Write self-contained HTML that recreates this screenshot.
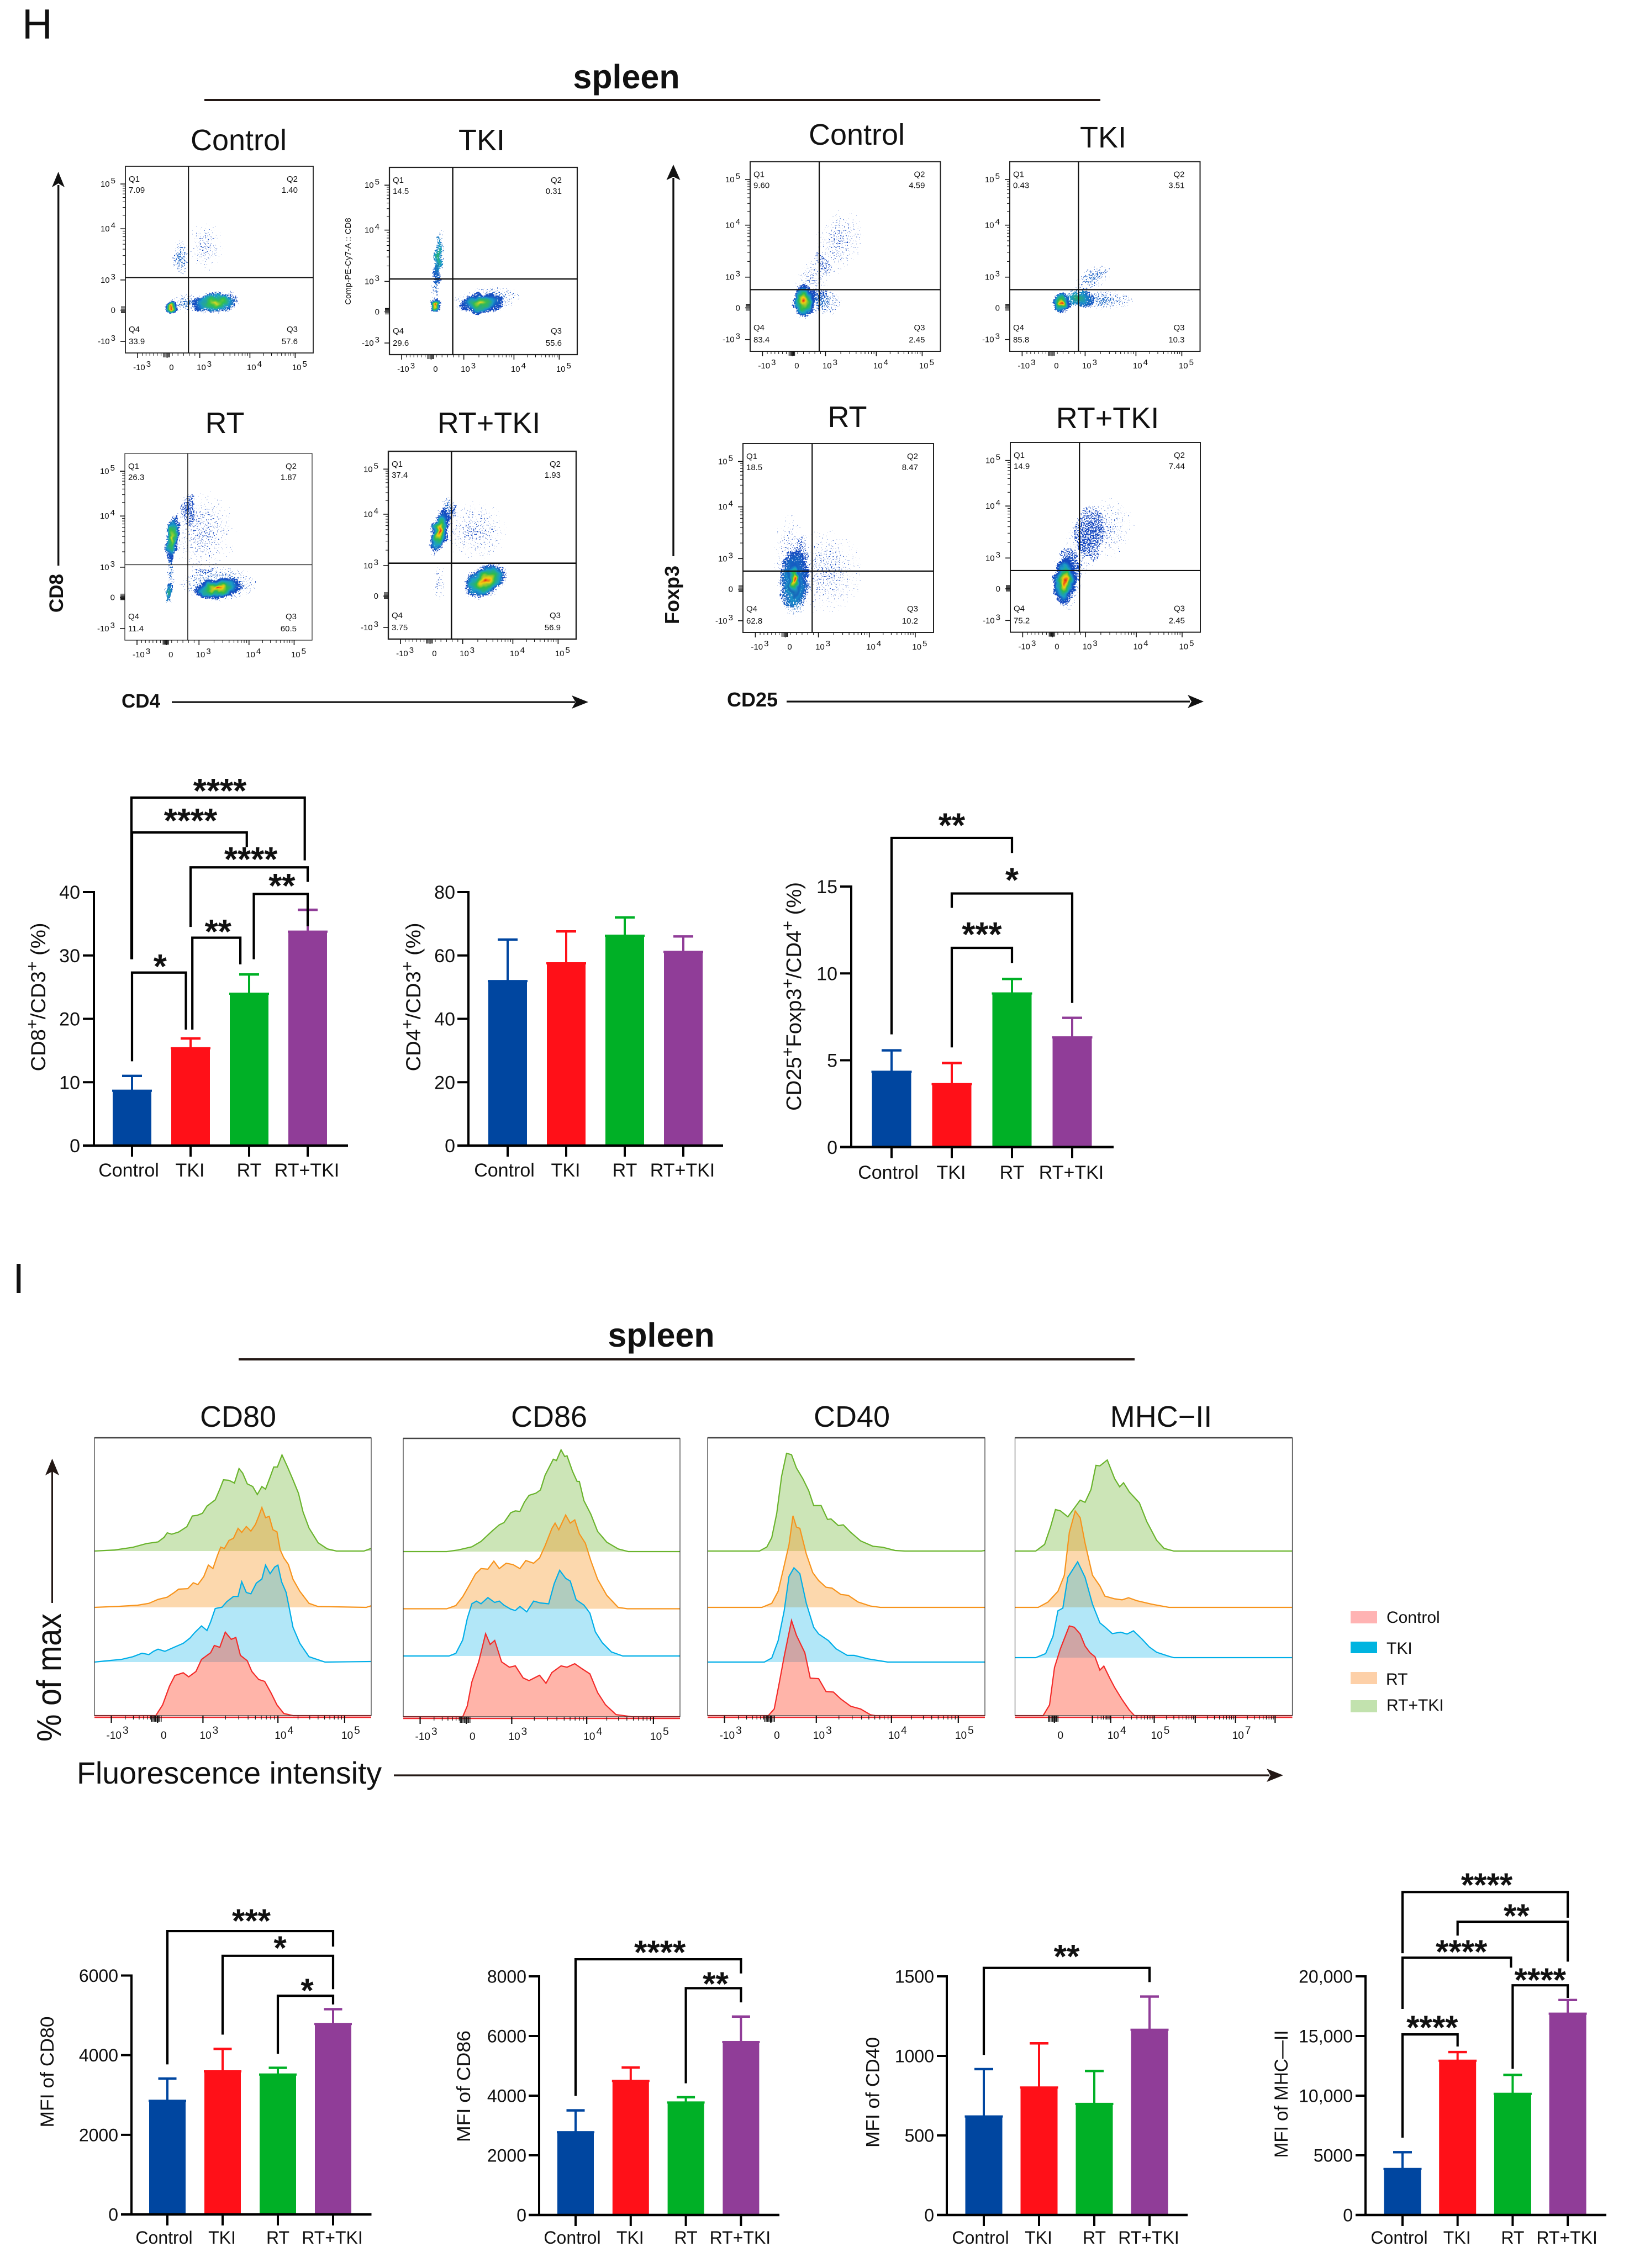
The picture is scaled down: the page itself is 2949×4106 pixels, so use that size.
<!DOCTYPE html>
<html lang="en">
<head>
<meta charset="utf-8">
<title>Spleen flow cytometry figure</title>
<style>
html,body{margin:0;padding:0;background:#fff;}
svg{display:block;font-family:"Liberation Sans",sans-serif;}
text{fill:#111;}
</style>
</head>
<body>
<svg id="figure" xmlns="http://www.w3.org/2000/svg" width="2949" height="4106" viewBox="0 0 2949 4106">
<defs>
<filter id="speckle" x="-8%" y="-8%" width="116%" height="116%" color-interpolation-filters="sRGB">
<feTurbulence type="fractalNoise" baseFrequency="0.07" numOctaves="2" seed="11" result="wobble"/>
<feDisplacementMap in="SourceGraphic" in2="wobble" scale="12" xChannelSelector="R" yChannelSelector="G" result="shaped"/>
<feColorMatrix in="shaped" type="matrix" values="0 0 0 0 0 0 0 0 0 0 0 0 0 0 0 0 0 0 1 0" result="shapedAlpha"/>
<feTurbulence type="fractalNoise" baseFrequency="0.42" numOctaves="2" seed="7" result="noise"/>
<feColorMatrix in="noise" type="matrix" values="0 0 0 0 0 0 0 0 0 0 0 0 0 0 0 0 0 0 1 0" result="noiseAlpha"/>
<feComposite in="shapedAlpha" in2="noiseAlpha" operator="arithmetic" k1="0" k2="1" k3="1" k4="-1" result="sum"/>
<feComponentTransfer in="sum" result="mask"><feFuncA type="linear" slope="30"/></feComponentTransfer>
<feComponentTransfer in="shaped" result="solid"><feFuncA type="linear" slope="30"/></feComponentTransfer>
<feComposite in="solid" in2="mask" operator="in"/>
</filter>
<radialGradient id="lv-hot"><stop offset="0" stop-color="#e41a1a"/><stop offset=".2" stop-color="#f2d010"/><stop offset=".4" stop-color="#2dbb4a"/><stop offset=".62" stop-color="#1aa0c8" stop-opacity=".85"/><stop offset=".82" stop-color="#1447c0" stop-opacity=".52"/><stop offset="1" stop-color="#1447c0" stop-opacity=".2"/></radialGradient>
<radialGradient id="lv-warm"><stop offset="0" stop-color="#e8d820"/><stop offset=".3" stop-color="#35c04a" stop-opacity=".9"/><stop offset=".6" stop-color="#1aa0c8" stop-opacity=".72"/><stop offset=".85" stop-color="#1447c0" stop-opacity=".48"/><stop offset="1" stop-color="#1447c0" stop-opacity=".2"/></radialGradient>
<radialGradient id="lv-mid"><stop offset="0" stop-color="#30b860" stop-opacity=".8"/><stop offset=".45" stop-color="#1a9cc8" stop-opacity=".62"/><stop offset="1" stop-color="#1447c0" stop-opacity=".24"/></radialGradient>
<radialGradient id="lv-low"><stop offset="0" stop-color="#1a6cc8" stop-opacity=".53"/><stop offset="1" stop-color="#1447c0" stop-opacity=".27"/></radialGradient>
<radialGradient id="lv-faint"><stop offset="0" stop-color="#1447c0" stop-opacity=".41"/><stop offset="1" stop-color="#1447c0" stop-opacity=".22"/></radialGradient>
</defs>
<rect width="2949" height="4106" fill="#fff"/>

<text x="40" y="70" font-size="76">H</text>
<text x="23" y="2341" font-size="77">I</text>

<text x="1134" y="160" font-size="61" font-weight="700" text-anchor="middle">spleen</text>
<rect x="370" y="179" width="1622" height="4" fill="#231815"/>
<text x="1197" y="2438" font-size="61" font-weight="700" text-anchor="middle">spleen</text>
<rect x="432" y="2459" width="1622" height="4" fill="#231815"/>

<g font-size="54" text-anchor="middle">
<text x="432" y="272">Control</text>
<text x="872" y="272">TKI</text>
<text x="407" y="784">RT</text>
<text x="885" y="784">RT+TKI</text>
<text x="1551" y="262">Control</text>
<text x="1997" y="267">TKI</text>
<text x="1534" y="773">RT</text>
<text x="2005" y="775">RT+TKI</text>
</g>

<g fill="#111">
<rect x="104" y="335" width="3.4" height="689"/>
<polygon points="105.6,311 117,339 105.6,332 94,339"/>
<text transform="translate(114,1074) rotate(-90)" font-size="35" font-weight="700" text-anchor="middle">CD8</text>
<text x="220" y="1281" font-size="35" font-weight="700">CD4</text>
<rect x="311" y="1269.5" width="730" height="3.2"/>
<polygon points="1065,1271 1035,1283 1042,1271 1035,1259"/>
<rect x="1217.3" y="322" width="3.4" height="685"/>
<polygon points="1219,298 1231.5,326 1219,320 1206.5,326"/>
<text transform="translate(1229,1077) rotate(-90)" font-size="36" font-weight="700" text-anchor="middle">Foxp3</text>
<text x="1316" y="1279" font-size="36" font-weight="700">CD25</text>
<rect x="1424" y="1268.5" width="730" height="3.2"/>
<polygon points="2179,1270 2150,1282 2157,1270 2150,1258"/>
<text transform="translate(635,473) rotate(-90)" font-size="15" text-anchor="middle">Comp-PE-Cy7-A :: CD8</text>
</g>

<g>
<g font-size="54" text-anchor="middle">
<text x="431" y="2583">CD80</text>
<text x="994" y="2583">CD86</text>
<text x="1542" y="2583">CD40</text>
<text x="2102" y="2583">MHC−II</text>
</g>
<text transform="translate(110,3037) rotate(-90)" font-size="62" text-anchor="middle" textLength="232" lengthAdjust="spacingAndGlyphs">% of max</text>
<rect x="93" y="2664" width="3" height="238" fill="#231815"/>
<polygon points="94.5,2640.6 107,2671 94.5,2664 82,2671" fill="#231815"/>
<text x="139" y="3229" font-size="55.5">Fluorescence intensity</text>
<rect x="713" y="3212.4" width="1585" height="3.4" fill="#231815"/>
<polygon points="2323,3214 2293,3226 2300,3214 2293,3202" fill="#231815"/>
</g>

<g font-size="30">
<rect x="2445" y="2917" width="48" height="22" fill="#ffb3b3"/>
<text x="2510" y="2938">Control</text>
<rect x="2445" y="2972" width="48" height="21" fill="#00b4e0"/>
<text x="2510" y="2994">TKI</text>
<rect x="2445" y="3027" width="48" height="22" fill="#fdd0a8"/>
<text x="2509" y="3050">RT</text>
<rect x="2445" y="3078" width="48" height="22" fill="#c2e2ae"/>
<text x="2510" y="3097">RT+TKI</text>
</g>

<g id="flow-layer"></g>
<g id="hist-layer"></g>
<g id="bar-layer"></g>
</svg>

<script>
/* ---------- shared axis labels ---------- */
const barCategories = ['Control', 'TKI', 'RT', 'RT+TKI'];
const flowTickBases = ['-10', '0', '10', '10', '10'];
const flowTickExps = ['3', '', '3', '4', '5'];
const flowYTickBases = ['10', '10', '10', '0', '-10'];
const flowYTickExps = ['5', '4', '3', '', '3'];

/* ---------- flow plots: quadrant percentages Q1,Q2,Q3,Q4 ---------- */
const quadCd8Control = ['7.09', '1.40', '57.6', '33.9'];
const quadCd8Tki = ['14.5', '0.31', '55.6', '29.6'];
const quadCd8Rt = ['26.3', '1.87', '60.5', '11.4'];
const quadCd8RtTki = ['37.4', '1.93', '56.9', '3.75'];
const quadFoxControl = ['9.60', '4.59', '2.45', '83.4'];
const quadFoxTki = ['0.43', '3.51', '10.3', '85.8'];
const quadFoxRt = ['18.5', '8.47', '10.2', '62.8'];
const quadFoxRtTki = ['14.9', '7.44', '2.45', '75.2'];

/* flow populations: [centre x, centre y, spread x, spread y, tilt, density] on the plot's 0-1 scale */
const popCd8Control = [[.295,.49,.045,.1,0,'low'],[.33,.735,.1,.05,0,'low'],[.43,.43,.09,.13,0,'faint'],[.48,.73,.135,.06,-5,'warm'],[.243,.755,.035,.034,0,'hot']];
const popCd8Tki = [[.26,.477,.03,.15,4,'mid'],[.25,.62,.022,.11,0,'low'],[.52,.71,.18,.07,-8,'low'],[.49,.725,.115,.055,-5,'warm'],[.243,.74,.034,.038,0,'hot']];
const popCd8Rt = [[.42,.42,.17,.22,0,'faint'],[.34,.29,.04,.1,0,'faint'],[.5,.7,.21,.09,0,'low'],[.242,.62,.02,.17,0,'low'],[.236,.75,.026,.055,0,'mid'],[.252,.453,.038,.13,5,'warm'],[.495,.723,.135,.055,-8,'hot']];
const popCd8RtTki = [[.46,.42,.17,.16,0,'faint'],[.27,.695,.03,.1,0,'faint'],[.32,.3,.04,.07,0,'low'],[.272,.427,.048,.13,12,'hot'],[.516,.69,.135,.085,-28,'hot']];
const popFoxControl = [[.467,.42,.12,.18,20,'faint'],[.33,.62,.09,.14,15,'faint'],[.38,.74,.1,.07,0,'low'],[.281,.736,.06,.095,0,'hot']];
const popFoxTki = [[.49,.73,.16,.05,0,'low'],[.44,.61,.1,.055,-25,'low'],[.36,.72,.09,.055,0,'mid'],[.269,.746,.05,.055,0,'hot']];
const popFoxRt = [[.43,.68,.2,.22,0,'faint'],[.25,.62,.09,.25,0,'faint'],[.267,.74,.075,.18,0,'mid'],[.27,.72,.035,.1,0,'hot']];
const popFoxRtTki = [[.49,.456,.15,.17,25,'faint'],[.378,.54,.1,.21,15,'faint'],[.3,.72,.075,.16,0,'low'],[.285,.732,.06,.13,5,'hot']];

/* ---------- histograms: [fluorescence channel, event count] ---------- */
const cd80RtTki = [[206,0],[250,4],[290,14],[320,28],[345,34],[358,51],[365,68],[375,63],[390,71],[408,91],[420,131],[430,133],[442,141],[452,168],[470,191],[480,231],[488,266],[500,264],[512,254],[522,308],[530,291],[540,251],[552,241],[562,211],[572,241],[580,231],[590,276],[598,314],[606,314],[616,359],[628,314],[640,266],[652,216],[662,146],[675,86],[695,31],[715,8],[735,0],[795,0],[811,10]];
const cd80Rt = [[206,0],[260,4],[300,8],[325,15],[345,30],[365,38],[380,55],[390,68],[410,70],[422,92],[432,85],[445,115],[455,158],[465,145],[475,195],[482,225],[490,220],[500,250],[510,258],[520,295],[528,280],[538,302],[548,285],[558,310],[565,340],[572,373],[580,335],[588,340],[596,290],[605,282],[612,215],[620,185],[630,160],[640,105],[655,60],[675,15],[695,3],[800,0],[811,6]];
const cd80Tki = [[206,0],[240,6],[265,10],[290,20],[310,33],[325,28],[335,40],[345,48],[360,40],[380,55],[400,70],[415,90],[425,110],[440,135],[452,118],[460,150],[470,200],[485,205],[495,225],[510,245],[520,245],[528,300],[538,260],[548,255],[560,295],[572,310],[580,362],[590,330],[600,355],[607,362],[615,300],[625,260],[632,200],[640,130],[655,70],[675,20],[710,0],[811,2]];
const cd80Control = [[206,0],[340,0],[355,40],[370,110],[382,150],[400,160],[412,145],[428,165],[440,210],[460,235],[468,262],[480,255],[492,312],[505,285],[515,292],[525,225],[540,205],[550,165],[565,135],[578,128],[592,85],[605,40],[620,8],[640,0],[811,0]];

const cd86RtTki = [[880,0],[975,0],[1000,6],[1030,18],[1050,38],[1075,78],[1090,100],[1100,108],[1115,145],[1125,152],[1135,150],[1145,185],[1155,210],[1170,218],[1180,230],[1190,285],[1208,345],[1215,340],[1225,380],[1233,355],[1238,358],[1250,300],[1260,262],[1265,262],[1275,190],[1290,140],[1305,75],[1325,35],[1350,10],[1372,0],[1485,0]];
const cd86Rt = [[880,0],[975,0],[995,12],[1010,45],[1025,90],[1038,130],[1050,150],[1065,148],[1078,178],[1090,150],[1105,170],[1120,165],[1135,150],[1148,180],[1165,170],[1178,190],[1190,235],[1205,300],[1212,320],[1220,295],[1235,350],[1245,320],[1255,332],[1265,280],[1278,245],[1290,180],[1305,110],[1325,50],[1350,5],[1370,0],[1485,0]];
const cd86Tki = [[880,0],[980,0],[995,10],[1010,60],[1020,140],[1030,195],[1040,205],[1050,195],[1065,218],[1080,200],[1090,205],[1100,190],[1115,175],[1125,170],[1135,185],[1150,165],[1165,205],[1180,198],[1198,195],[1210,270],[1222,320],[1235,290],[1245,280],[1258,210],[1275,190],[1288,160],[1300,90],[1315,50],[1335,15],[1360,0],[1485,0]];
const cd86Control = [[880,0],[1010,0],[1020,40],[1030,130],[1045,205],[1060,310],[1070,270],[1080,285],[1095,205],[1112,185],[1125,190],[1142,145],[1155,135],[1178,155],[1192,125],[1205,165],[1225,190],[1238,185],[1255,198],[1270,180],[1288,160],[1305,90],[1322,45],[1345,8],[1380,0],[1485,0]];

const cd40RtTki = [[35,0],[140,0],[155,15],[165,50],[175,140],[185,280],[195,365],[205,360],[215,310],[228,270],[240,225],[250,170],[265,170],[278,118],[285,120],[300,95],[310,98],[325,70],[345,38],[370,18],[390,14],[415,2],[435,0],[590,0],[597,2]];
const cd40Rt = [[35,0],[145,0],[165,15],[178,60],[190,155],[200,235],[208,342],[215,300],[222,295],[235,200],[248,130],[260,100],[275,75],[287,72],[305,48],[320,45],[340,20],[365,5],[385,0],[597,0]];
const cd40Tki = [[35,0],[150,0],[165,15],[178,80],[190,190],[200,320],[210,352],[222,330],[235,220],[250,130],[260,105],[280,80],[295,50],[318,25],[332,25],[360,12],[400,0],[597,0]];
const cd40Control = [[35,0],[158,0],[170,25],[180,120],[190,220],[205,355],[215,300],[232,235],[243,140],[260,138],[275,90],[290,88],[305,62],[325,35],[345,25],[365,3],[375,0],[597,0]];

const mhcRtTki = [[658,0],[700,0],[718,25],[730,90],[740,155],[750,150],[765,128],[780,165],[790,190],[800,182],[812,230],[822,320],[830,318],[845,340],[860,270],[870,240],[878,255],[890,220],[910,180],[925,110],[945,40],[960,10],[980,0],[1220,0]];
const mhcRt = [[658,0],[705,0],[725,20],[745,60],[758,120],[768,280],[780,360],[790,335],[800,240],[815,120],[830,80],[840,42],[860,32],[875,28],[888,36],[905,25],[935,12],[970,0],[1220,0]];
const mhcTki = [[658,0],[700,0],[720,15],[735,80],[745,175],[755,185],[765,300],[785,358],[800,300],[815,200],[830,130],[840,115],[855,90],[872,95],[885,88],[898,100],[915,70],[930,40],[945,20],[970,5],[980,0],[1220,0]];
const mhcControl = [[658,0],[715,0],[728,40],[738,180],[750,250],[768,335],[778,330],[790,305],[800,260],[810,235],[820,220],[830,170],[838,185],[850,140],[860,105],[875,60],[890,20],[900,0],[1220,0]];

const histTickBases = ['-10', '0', '10', '10', '10'];
const histTickExps = ['3', '', '3', '4', '5'];
const mhcTickBases = ['0', '', '10', '10', '', '10', ''];
const mhcTickExps = ['', '', '4', '5', '', '7', ''];

/* ---------- bar charts ---------- */
const cd8Means = [8.7, 15.4, 24, 33.8];
const cd8ErrorTops = [11, 16.9, 27, 37.2];
const cd8Ticks = [0, 10, 20, 30, 40];
const cd8TickLabels = ['0', '10', '20', '30', '40'];
/* [from category, to category, top value, left end, right end, stars, star category, star value] */
const cd8Brackets = [[0,.92,27.3,13.3,18.3,'*',.48,28.9],[1.03,1.85,32.8,18.3,28.6,'**',1.47,34.4],[2.08,3,39.7,29.4,34.6,'**',2.56,41.6],[1,3,43.9,34.5,41.6,'****',2.03,45.8],[0,1.96,49.4,29.4,47.1,'****',1,51.9],[-.01,2.95,54.9,29.4,45,'****',1.5,56.6]];

const cd4Means = [52, 57.6, 66.3, 61.2];
const cd4ErrorTops = [65, 67.6, 72, 66];
const cd4Ticks = [0, 20, 40, 60, 80];
const cd4TickLabels = ['0', '20', '40', '60', '80'];
const cd4Brackets = [];

const tregMeans = [4.35, 3.64, 8.86, 6.33];
const tregErrorTops = [5.57, 4.84, 9.68, 7.44];
const tregTicks = [0, 5, 10, 15];
const tregTickLabels = ['0', '5', '10', '15'];
const tregBrackets = [[0,2,17.8,6.49,16.93,'**',1,18.75],[1,3,14.6,13.77,8.3,'*',2,15.6],[1,2,11.47,5.74,10.6,'***',1.5,12.47]];

const cd80Means = [2860, 3600, 3520, 4790];
const cd80ErrorTops = [3412, 4158, 3683, 5155];
const cd80Ticks = [0, 2000, 4000, 6000];
const cd80TickLabels = ['0', '2000', '4000', '6000'];
const cd80Brackets = [[0,3,7116,3769,6726,'***',1.52,7472],[1,3,6495,4515,5657,'*',2.04,6792],[2,3,5492,4033,5274,'*',2.53,5723]];

const cd86Means = [2784, 4502, 3780, 5806];
const cd86ErrorTops = [3507, 4943, 3947, 6652];
const cd86Ticks = [0, 2000, 4000, 6000, 8000];
const cd86TickLabels = ['0', '2000', '4000', '6000', '8000'];
const cd86Brackets = [[0,3,8573,3991,8097,'****',1.53,8934],[2,3,7604,4414,7128,'**',2.54,7877]];

const cd40Means = [621, 803, 700, 1166];
const cd40ErrorTops = [917, 1079, 905, 1373];
const cd40Ticks = [0, 500, 1000, 1500];
const cd40TickLabels = ['0', '500', '1000', '1500'];
const cd40Brackets = [[0,3,1553,1006,1464,'**',1.5,1650]];

const mhcMeans = [3877, 12952, 10176, 16894];
const mhcErrorTops = [5264, 13656, 11740, 18018];
const mhcTicks = [0, 5000, 10000, 15000, 20000];
const mhcTickLabels = ['0', '5000', '10,000', '15,000', '20,000'];
const mhcBrackets = [[0,1,15132,6476,14119,'****',.54,16057],[2,3,19251,12247,18194,'****',2.5,20022],[0,1.97,21564,17269,20727,'****',1.07,22379],[1,3,24581,23414,21233,'**',2.07,25396],[0,3,27070,21938,24912,'****',1.53,27996]];

/* ---------- helpers ---------- */
const NS = 'http://www.w3.org/2000/svg';
function mk(tag, attrs, parent, name) {
  const el = document.createElementNS(NS, tag);
  for (const k in attrs) el.setAttribute(k, attrs[k]);
  
  
  parent.appendChild(el);
  return el;
}
function supText(parent, x, y, base, exp, size, anchor, name, rise) {
  const t = mk('text', {x: x, y: y, 'font-size': size, 'text-anchor': anchor}, parent, name);
  const a = mk('tspan', {}, t, name + '-base');
  a.textContent = base;
  if (exp) {
    const b = mk('tspan', {dy: -rise, dx: 2}, t, name + '-exponent');
    b.textContent = exp;
  }
  return t;
}
function minorBetween(a, b) {
  const out = [];
  for (let m = 2; m < 10; m++) out.push(a + (b - a) * Math.log10(m));
  return out;
}

/* ---------- flow cytometry plots ---------- */
const flowXTickFractions = [.065, .222, .396, .663, .904];
const flowYTickFractions = [.095, .335, .609, .771, .938];
const flowPlots = [
  {id: 'cd8-control', x: 227, y: 301, w: 340, h: 338, vx: .336, hy: .596, quad: quadCd8Control, pops: popCd8Control, sw: 1.8},
  {id: 'cd8-tki', x: 705, y: 303, w: 340, h: 339, vx: .337, hy: .596, quad: quadCd8Tki, pops: popCd8Tki, sw: 2.2},
  {id: 'cd8-rt', x: 226, y: 821, w: 339, h: 338, vx: .336, hy: .596, quad: quadCd8Rt, pops: popCd8Rt, sw: 1.2},
  {id: 'cd8-rt-tki', x: 703, y: 817, w: 340, h: 340, vx: .336, hy: .596, quad: quadCd8RtTki, pops: popCd8RtTki, sw: 2.4},
  {id: 'foxp3-control', x: 1358, y: 292.6, w: 344.5, h: 343.4, vx: .363, hy: .675, quad: quadFoxControl, pops: popFoxControl, sw: 2},
  {id: 'foxp3-tki', x: 1828, y: 292.6, w: 344.5, h: 343.4, vx: .361, hy: .675, quad: quadFoxTki, pops: popFoxTki, sw: 2},
  {id: 'foxp3-rt', x: 1345, y: 803, w: 345, h: 342, vx: .363, hy: .675, quad: quadFoxRt, pops: popFoxRt, sw: 2},
  {id: 'foxp3-rt-tki', x: 1829, y: 801, w: 344, h: 343.6, vx: .364, hy: .675, quad: quadFoxRtTki, pops: popFoxRtTki, sw: 2}
];
const flowLayer = document.getElementById('flow-layer');
flowPlots.forEach(function (p) {
  const g = mk('g', {}, flowLayer, 'flow-plot-' + p.id);
  const sx = function (f) { return p.x + f * p.w; };
  const sy = function (f) { return p.y + f * p.h; };
  const dots = mk('g', {filter: 'url(#speckle)'}, g, 'flow-events-' + p.id);
  p.pops.forEach(function (c) {
    const e = mk('ellipse', {cx: sx(c[0]), cy: sy(c[1]), rx: c[2] * p.w, ry: c[3] * p.h, fill: 'url(#lv-' + c[5] + ')',
      transform: 'rotate(' + c[4] + ' ' + sx(c[0]) + ' ' + sy(c[1]) + ')'}, dots, 'flow-population');
  });
  mk('rect', {x: p.x, y: p.y, width: p.w, height: p.h, fill: 'none', stroke: '#222', 'stroke-width': p.sw}, g, 'flow-frame-' + p.id);
  mk('line', {x1: sx(p.vx), x2: sx(p.vx), y1: p.y, y2: p.y + p.h, stroke: '#111', 'stroke-width': p.sw + .2}, g, 'quadrant-vertical');
  mk('line', {x1: p.x, x2: p.x + p.w, y1: sy(p.hy), y2: sy(p.hy), stroke: '#111', 'stroke-width': p.sw + .2}, g, 'quadrant-horizontal');
  /* quadrant labels */
  const names = ['Q1', 'Q2', 'Q3', 'Q4'];
  names.forEach(function (q, i) {
    const right = i === 1 || i === 2;
    const lower = i >= 2;
    const tx = right ? p.x + p.w - 28 : p.x + 6;
    const y1 = lower ? p.y + p.h - 38 : p.y + 28;
    const y2 = lower ? p.y + p.h - 16 : p.y + 48;
    const anchor = right ? 'end' : 'start';
    const a = mk('text', {x: tx, y: y1, 'font-size': 15, 'text-anchor': anchor}, g, 'quadrant-name');
    a.textContent = q;
    const b = mk('text', {x: tx, y: y2, 'font-size': 15, 'text-anchor': anchor}, g, 'quadrant-percent');
    b.textContent = p.quad[i];
  });
  /* x axis */
  flowXTickFractions.forEach(function (f, i) {
    mk('line', {x1: sx(f), x2: sx(f), y1: p.y + p.h, y2: p.y + p.h + 9, stroke: '#111', 'stroke-width': 1.6}, g, 'x-major-tick');
    supText(g, sx(f) + 8, p.y + p.h + 31, flowTickBases[i], flowTickExps[i], 15, 'middle', 'x-tick-label', 6);
    if (i >= 2 && i < 4) minorBetween(sx(f), sx(flowXTickFractions[i + 1])).forEach(function (m) {
      mk('line', {x1: m, x2: m, y1: p.y + p.h, y2: p.y + p.h + 5, stroke: '#111', 'stroke-width': 1.1}, g, 'x-minor-tick');
    });
  });
  [.09,.11,.13,.15,.17,.19,.25,.28,.31,.34,.37].forEach(function (f) {
    mk('line', {x1: sx(f), x2: sx(f), y1: p.y + p.h, y2: p.y + p.h + 5, stroke: '#111', 'stroke-width': 1}, g, 'x-minor-tick');
  });
  [-6, -4, -2, 0, 2, 4].forEach(function (d) {
    mk('line', {x1: sx(.222) + d, x2: sx(.222) + d, y1: p.y + p.h, y2: p.y + p.h + 8, stroke: '#111', 'stroke-width': 1.4}, g, 'x-zero-tick');
  });
  /* y axis */
  flowYTickFractions.forEach(function (f, i) {
    mk('line', {x1: p.x - 9, x2: p.x, y1: sy(f), y2: sy(f), stroke: '#111', 'stroke-width': 1.6}, g, 'y-major-tick');
    supText(g, p.x - 18, sy(f) + 5, flowYTickBases[i], flowYTickExps[i], 15, 'end', 'y-tick-label', 6);
    if (i < 2) minorBetween(sy(flowYTickFractions[i + 1]), sy(f)).forEach(function (m) {
      mk('line', {x1: p.x - 5, x2: p.x, y1: m, y2: m, stroke: '#111', 'stroke-width': 1.1}, g, 'y-minor-tick');
    });
  });
  [-6, -4, -2, 0, 2, 4].forEach(function (d) {
    mk('line', {x1: p.x - 8, x2: p.x, y1: sy(.771) + d, y2: sy(.771) + d, stroke: '#111', 'stroke-width': 1.4}, g, 'y-zero-tick');
  });
});

/* ---------- histogram overlays ---------- */
const histColors = [
  {line: '#6ab42d', fill: '#6ab42d', op: .34, key: 'rt-tki'},
  {line: '#f7941d', fill: '#f7941d', op: .36, key: 'rt'},
  {line: '#00aee8', fill: '#00aee8', op: .30, key: 'tki'},
  {line: '#f0282d', fill: '#ff3a1e', op: .38, key: 'control'}
];
const histMajorFractions = [.061, .228, .392, .663, .904];
const mhcMajorFractions = [.142, .279, .345, .502, .65, .795, .938];
const histPanels = [
  {id: 'cd80', x: 171, w: 501, top: 2603, bottom: 3106, xMin: 206, xMax: 811, bases: [2808, 2910, 3009, 3106], series: [cd80RtTki, cd80Rt, cd80Tki, cd80Control], majors: histMajorFractions, tb: histTickBases, te: histTickExps},
  {id: 'cd86', x: 730, w: 501, top: 2604, bottom: 3108, xMin: 880, xMax: 1485, bases: [2809, 2912.5, 2998, 3108], series: [cd86RtTki, cd86Rt, cd86Tki, cd86Control], majors: histMajorFractions, tb: histTickBases, te: histTickExps},
  {id: 'cd40', x: 1281, w: 502, top: 2603, bottom: 3106, xMin: 35, xMax: 597, bases: [2808, 2910, 3009, 3106], series: [cd40RtTki, cd40Rt, cd40Tki, cd40Control], majors: histMajorFractions, tb: histTickBases, te: histTickExps},
  {id: 'mhc-ii', x: 1837.5, w: 502, top: 2603, bottom: 3106, xMin: 658, xMax: 1220, bases: [2808, 2910, 3001, 3106], series: [mhcRtTki, mhcRt, mhcTki, mhcControl], majors: mhcMajorFractions, tb: mhcTickBases, te: mhcTickExps}
];
const countScale = 1 / 2.063;
const histLayer = document.getElementById('hist-layer');
histPanels.forEach(function (p) {
  const g = mk('g', {}, histLayer, 'histogram-panel-' + p.id);
  const xs = function (v) { return p.x + (v - p.xMin) / (p.xMax - p.xMin) * p.w; };
  p.series.forEach(function (s, i) {
    const c = histColors[i];
    const base = p.bases[i];
    const ys = function (h) { return base - h * countScale; };
    const line = s.map(function (d) { return xs(d[0]).toFixed(1) + ',' + ys(d[1]).toFixed(1); }).join(' ');
    const area = xs(s[0][0]).toFixed(1) + ',' + base + ' ' + line + ' ' + xs(s[s.length - 1][0]).toFixed(1) + ',' + base;
    mk('polyline', {points: line, fill: 'none', stroke: c.line, 'stroke-width': 2.2}, g, 'curve-' + p.id + '-' + c.key);
    mk('polygon', {points: area, fill: c.fill, 'fill-opacity': c.op}, g, 'area-' + p.id + '-' + c.key);
  });
  mk('rect', {x: p.x, y: p.top, width: p.w, height: p.bottom - p.top, fill: 'none', stroke: '#333', 'stroke-width': 1.2}, g, 'panel-frame-' + p.id);
  mk('line', {x1: p.x, x2: p.x + p.w, y1: p.top, y2: p.top, stroke: '#444', 'stroke-width': 2.6}, g, 'panel-top-border-' + p.id);
  mk('line', {x1: p.x, x2: p.x + p.w, y1: p.bottom + 3, y2: p.bottom + 3, stroke: '#f0282d', 'stroke-width': 2.4}, g, 'panel-baseline-' + p.id);
  p.majors.forEach(function (f, i) {
    const tx = p.x + f * p.w;
    mk('line', {x1: tx, x2: tx, y1: p.bottom, y2: p.bottom + 13, stroke: '#111', 'stroke-width': 2.2}, g, 'major-tick');
    if (p.tb[i]) supText(g, tx + 11, p.bottom + 42, p.tb[i], p.te[i], 19, 'middle', 'tick-label', 9);
    if (i + 1 < p.majors.length && p.tb[i] !== '0') minorBetween(tx, p.x + p.majors[i + 1] * p.w).forEach(function (m) {
      mk('line', {x1: m, x2: m, y1: p.bottom, y2: p.bottom + 7, stroke: '#111', 'stroke-width': 1.2}, g, 'minor-tick');
    });
  });
  const zero = p.x + (p.id === 'mhc-ii' ? mhcMajorFractions[0] : histMajorFractions[1]) * p.w;
  [-11, -8.5, -6, -3.5, -1, 1.5, 4, 6.5].forEach(function (d) {
    mk('line', {x1: zero + d, x2: zero + d, y1: p.bottom, y2: p.bottom + 11, stroke: '#111', 'stroke-width': 1.6}, g, 'zero-tick');
  });
});

/* ---------- bar charts ---------- */
const palette = ['#0046a0', '#ff1018', '#00b026', '#903d98'];
const xLabelOffsets = [-6, -1, 0, -1.5];
const barCharts = [
  {id: 'cd8', axisX: 170, y0: 2074, yTop: 1615, maxV: 40, cat0: 239, step: 106, barW: 70, capW: 36, xStart: 150, xEnd: 630, tickRight: 145, labelY: 2130, font: 34, starFont: 62, ylab: [['CD8'], ['+', 1], ['/CD3'], ['+', 1], [' (%)']], ylabX: 82, ylabY: 1805, ylabLen: 269, ylabFont: 37, means: cd8Means, errs: cd8ErrorTops, ticks: cd8Ticks, tickLabels: cd8TickLabels, brackets: cd8Brackets},
  {id: 'cd4', axisX: 848, y0: 2074, yTop: 1615, maxV: 80, cat0: 919, step: 106, barW: 70, capW: 36, xStart: 828, xEnd: 1309, tickRight: 824, labelY: 2130, font: 34, starFont: 62, ylab: [['CD4'], ['+', 1], ['/CD3'], ['+', 1], [' (%)']], ylabX: 761, ylabY: 1805, ylabLen: 269, ylabFont: 37, means: cd4Means, errs: cd4ErrorTops, ticks: cd4Ticks, tickLabels: cd4TickLabels, brackets: cd4Brackets},
  {id: 'treg', axisX: 1541, y0: 2076.7, yTop: 1605, maxV: 15, cat0: 1614, step: 109, barW: 71, capW: 36, xStart: 1521, xEnd: 2016, tickRight: 1516, labelY: 2134, font: 34, starFont: 62, ylab: [['CD25'], ['+', 1], ['Foxp3'], ['+', 1], ['/CD4'], ['+', 1], [' (%)']], ylabX: 1450, ylabY: 1804, ylabLen: 414, ylabFont: 38, means: tregMeans, errs: tregErrorTops, ticks: tregTicks, tickLabels: tregTickLabels, brackets: tregBrackets},
  {id: 'cd80', axisX: 238, y0: 4009, yTop: 3576.5, maxV: 6000, cat0: 303, step: 100, barW: 66, capW: 33, xStart: 219, xEnd: 672.5, tickRight: 214, labelY: 4062, font: 32, starFont: 60, ylab: [['MFI of CD80']], ylabX: 97, ylabY: 3751, ylabLen: 201, ylabFont: 34, means: cd80Means, errs: cd80ErrorTops, ticks: cd80Ticks, tickLabels: cd80TickLabels, brackets: cd80Brackets},
  {id: 'cd86', axisX: 976, y0: 4010, yTop: 3578, maxV: 8000, cat0: 1042, step: 99.8, barW: 66, capW: 33, xStart: 957, xEnd: 1411, tickRight: 953, labelY: 4062, font: 32, starFont: 60, ylab: [['MFI of CD86']], ylabX: 851, ylabY: 3777, ylabLen: 202, ylabFont: 34, means: cd86Means, errs: cd86ErrorTops, ticks: cd86Ticks, tickLabels: cd86TickLabels, brackets: cd86Brackets},
  {id: 'cd40', axisX: 1714, y0: 4010, yTop: 3578, maxV: 1500, cat0: 1781, step: 100, barW: 67, capW: 34, xStart: 1696, xEnd: 2150, tickRight: 1691, labelY: 4062, font: 32, starFont: 60, ylab: [['MFI of CD40']], ylabX: 1591.5, ylabY: 3788, ylabLen: 200, ylabFont: 34, means: cd40Means, errs: cd40ErrorTops, ticks: cd40Ticks, tickLabels: cd40TickLabels, brackets: cd40Brackets},
  {id: 'mhc-ii', axisX: 2472, y0: 4010, yTop: 3578, maxV: 20000, cat0: 2539, step: 99.7, barW: 67, capW: 34, xStart: 2454, xEnd: 2908, tickRight: 2449, labelY: 4062, font: 32, starFont: 60, ylab: [['MFI of MHC—II']], ylabX: 2331, ylabY: 3791, ylabLen: 231, ylabFont: 34, means: mhcMeans, errs: mhcErrorTops, ticks: mhcTicks, tickLabels: mhcTickLabels, brackets: mhcBrackets}
];
const barLayer = document.getElementById('bar-layer');
barCharts.forEach(function (c) {
  const g = mk('g', {}, barLayer, 'bar-chart-' + c.id);
  const ys = function (v) { return c.y0 - v / c.maxV * (c.y0 - c.yTop); };
  const xs = function (i) { return c.cat0 + i * c.step; };
  /* bars + error bars */
  c.means.forEach(function (v, i) {
    const x = xs(i);
    mk('rect', {x: x - c.barW / 2, y: ys(v), width: c.barW, height: c.y0 - ys(v), fill: palette[i]}, g, 'bar-' + barCategories[i].toLowerCase().replace('+', '-'));
    mk('rect', {x: x - c.barW / 2 - 1, y: ys(v) - 1.5, width: c.barW + 2, height: 4, fill: palette[i]}, g, 'bar-top-cap');
    mk('line', {x1: x, x2: x, y1: ys(v), y2: ys(c.errs[i]), stroke: palette[i], 'stroke-width': 4}, g, 'error-stem');
    mk('line', {x1: x - c.capW / 2, x2: x + c.capW / 2, y1: ys(c.errs[i]), y2: ys(c.errs[i]), stroke: palette[i], 'stroke-width': 4.4}, g, 'error-cap');
  });
  /* axes */
  mk('line', {x1: c.axisX, x2: c.axisX, y1: c.yTop - 2, y2: c.y0 + 2, stroke: '#000', 'stroke-width': 4}, g, 'y-axis-line');
  mk('line', {x1: c.xStart, x2: c.xEnd, y1: c.y0, y2: c.y0, stroke: '#000', 'stroke-width': 4.6}, g, 'x-axis-line');
  c.ticks.forEach(function (t, i) {
    if (t !== 0) mk('line', {x1: c.xStart, x2: c.axisX, y1: ys(t), y2: ys(t), stroke: '#000', 'stroke-width': 4}, g, 'y-tick');
    const lab = mk('text', {x: c.tickRight, y: ys(t) + c.font * .36, 'font-size': c.font, 'text-anchor': 'end'}, g, 'y-tick-label');
    lab.textContent = c.tickLabels[i];
  });
  barCategories.forEach(function (name, i) {
    mk('line', {x1: xs(i), x2: xs(i), y1: c.y0, y2: c.y0 + 20, stroke: '#000', 'stroke-width': 4}, g, 'x-tick');
    const lab = mk('text', {x: xs(i) + xLabelOffsets[i], y: c.labelY, 'font-size': c.font, 'text-anchor': 'middle'}, g, 'x-tick-label');
    lab.textContent = name;
  });
  /* y label */
  const yl = mk('text', {transform: 'translate(' + c.ylabX + ',' + c.ylabY + ') rotate(-90)', 'font-size': c.ylabFont, 'text-anchor': 'middle', textLength: c.ylabLen, lengthAdjust: 'spacingAndGlyphs'}, g, 'y-axis-title');
  let raised = false;
  c.ylab.forEach(function (part) {
    const sup = part.length > 1;
    const dy = sup ? -14 : (raised ? 14 : 0);
    const ts = mk('tspan', {dy: dy}, yl, sup ? 'y-title-superscript' : 'y-title-text');
    if (sup) ts.setAttribute('font-size', c.ylabFont * .8);
    ts.textContent = part[0];
    raised = sup;
  });
  /* significance brackets */
  c.brackets.forEach(function (b) {
    const d = 'M' + xs(b[0]) + ' ' + ys(b[3]) + ' V' + ys(b[2]) + ' H' + xs(b[1]) + ' V' + ys(b[4]);
    mk('path', {d: d, fill: 'none', stroke: '#000', 'stroke-width': 4.2}, g, 'significance-bracket');
    const s = mk('text', {x: xs(b[6]), y: ys(b[7]) + c.starFont * .46, 'font-size': c.starFont, 'font-weight': 700, 'text-anchor': 'middle'}, g, 'significance-stars');
    s.textContent = b[5];
  });
});
</script>
</body>
</html>
